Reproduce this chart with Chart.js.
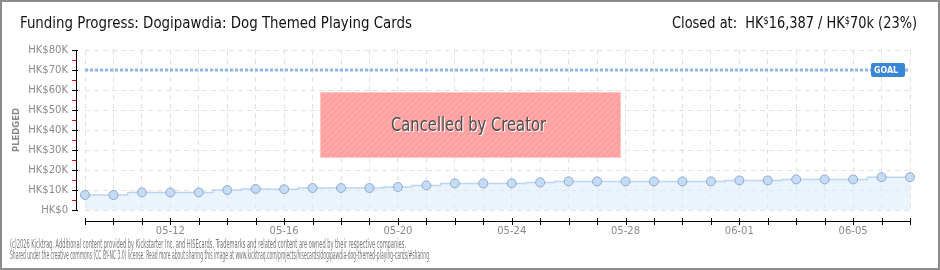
<!DOCTYPE html>
<html>
<head>
<meta charset="utf-8">
<script src="https://cdn.jsdelivr.net/npm/chart.js@4"></script>
<style>
  html, body { margin: 0; padding: 0; background: #fff; }
  canvas { display: block; }
</style>
</head>
<body>
<canvas id="myChart" width="940" height="270"></canvas>
<script>
const dates = [
  '05-09', '05-10', '05-11', '05-12', '05-13', '05-14', '05-15', '05-16', '05-17', '05-18',
  '05-19', '05-20', '05-21', '05-22', '05-23', '05-24', '05-25', '05-26', '05-27', '05-28',
  '05-29', '05-30', '05-31', '06-01', '06-02', '06-03', '06-04', '06-05', '06-06', '06-07',
];
const pledged = [
  7500, 7500, 8800, 8800, 8800, 10000, 10500, 10400, 11000, 11000,
  11000, 11500, 12300, 13300, 13300, 13300, 13800, 14300, 14300, 14300,
  14300, 14300, 14300, 14800, 14800, 15300, 15300, 15300, 16400, 16387,
];
const shownDates = ['05-12', '05-16', '05-20', '05-24', '05-28', '06-01', '06-05'];
const goal = 70000;
const yTicks = [0, 10000, 20000, 30000, 40000, 50000, 60000, 70000, 80000];

const titleText = 'Funding Progress: Dogipawdia: Dog Themed Playing Cards';
const footerLines = [
  '(c)2026 Kicktraq. Additional content provided by Kickstarter Inc. and HISEcards. Trademarks and related content are owned by their respective companies.',
  'Shared under the creative commons (CC BY-NC 3.0) license. Read more about sharing this image at www.kicktraq.com/projects/hisecards/dogipawdia-dog-themed-playing-cards/#sharing',
];

const narrow = '"Liberation Sans Narrow", "DejaVu Sans Condensed", "Liberation Sans", sans-serif';

// draw text squeezed to a given width
function fitText(ctx, text, x, y, width) {
  const w = ctx.measureText(text).width;
  ctx.save();
  ctx.translate(x, y);
  ctx.scale(width / w, 1);
  ctx.textAlign = 'left';
  ctx.fillText(text, 0, 0);
  ctx.restore();
}

function stripes() {
  const c = document.createElement('canvas');
  c.width = 6; c.height = 6;
  const g = c.getContext('2d');
  g.fillStyle = '#ff9f9f';
  g.fillRect(0, 0, 6, 6);
  g.strokeStyle = 'rgba(255,255,255,0.18)';
  g.lineWidth = 1.2;
  g.beginPath();
  g.moveTo(-1, 7); g.lineTo(7, -1);
  g.moveTo(-4, 4); g.lineTo(4, -4);
  g.moveTo(2, 10); g.lineTo(10, 2);
  g.stroke();
  return c;
}

const decor = {
  id: 'decor',
  beforeDatasetsDraw(chart) {
    const ctx = chart.ctx;
    const x = chart.scales.x, y = chart.scales.y;
    // goal line
    const gy = Math.round(y.getPixelForValue(goal));
    ctx.save();
    ctx.strokeStyle = '#8fb6e6';
    ctx.lineWidth = 3;
    ctx.setLineDash([3, 2]);
    ctx.beginPath();
    ctx.moveTo(x.left, gy);
    ctx.lineTo(x.right, gy);
    ctx.stroke();
    ctx.restore();
  },
  afterDraw(chart) {
    const ctx = chart.ctx;
    const x = chart.scales.x, y = chart.scales.y;
    ctx.save();

    // y axis
    ctx.strokeStyle = '#000';
    ctx.lineWidth = 1;
    ctx.beginPath();
    ctx.moveTo(76.5, y.getPixelForValue(80000));
    ctx.lineTo(76.5, y.getPixelForValue(0) + 0.5);
    ctx.stroke();
    yTicks.forEach(v => {
      const py = Math.round(y.getPixelForValue(v)) + 0.5;
      ctx.strokeStyle = '#000';
      ctx.beginPath(); ctx.moveTo(72, py); ctx.lineTo(78, py); ctx.stroke();
      if (v < 80000) {
        const my = Math.round(y.getPixelForValue(v + 5000)) + 0.5;
        ctx.strokeStyle = '#e00000';
        ctx.beginPath(); ctx.moveTo(72, my); ctx.lineTo(76, my); ctx.stroke();
      }
    });

    // x axis
    const ay = 221.5;
    ctx.strokeStyle = '#000';
    ctx.beginPath(); ctx.moveTo(x.left, ay); ctx.lineTo(x.right, ay); ctx.stroke();
    dates.forEach((d, i) => {
      const px = Math.round(x.getPixelForValue(i)) + 0.5;
      ctx.beginPath(); ctx.moveTo(px, 218); ctx.lineTo(px, 225); ctx.stroke();
    });

    // goal badge
    const gy = y.getPixelForValue(goal);
    ctx.fillStyle = '#3a86d6';
    ctx.beginPath();
    ctx.roundRect(871, gy - 7, 34, 14, 2);
    ctx.fill();
    ctx.fillStyle = '#fff';
    ctx.font = 'bold 9px "DejaVu Sans", sans-serif';
    ctx.textBaseline = 'middle';
    fitText(ctx, 'GOAL', 874, gy + 0.5, 24);

    // cancelled box
    const bx = 320, by = 92, bw = 301, bh = 66;
    ctx.fillStyle = ctx.createPattern(stripes(), 'repeat');
    ctx.fillRect(bx, by, bw, bh);
    ctx.strokeStyle = '#ffc4c4';
    ctx.lineWidth = 1;
    ctx.strokeRect(bx + 0.5, by + 0.5, bw - 1, bh - 1);
    ctx.font = '19px ' + narrow;
    ctx.textBaseline = 'middle';
    ctx.fillStyle = '#ffffff';
    fitText(ctx, 'Cancelled by Creator', 392, 127, 155);
    ctx.fillStyle = '#4d4d4d';
    fitText(ctx, 'Cancelled by Creator', 391, 126, 155);

    // PLEDGED
    ctx.save();
    ctx.translate(17, 130);
    ctx.rotate(-Math.PI / 2);
    ctx.fillStyle = '#888';
    ctx.font = 'bold 8px "DejaVu Sans", sans-serif';
    fitText(ctx, 'PLEDGED', -22, 0, 44);
    ctx.restore();

    // titles
    ctx.fillStyle = '#111';
    ctx.font = '16px ' + narrow;
    ctx.textBaseline = 'middle';
    fitText(ctx, titleText, 20, 24, 392);

    const parts = [
      ['Closed at:  HK', 16, 0],
      ['$', 10, -3],
      ['16,387 / HK', 16, 0],
      ['$', 10, -3],
      ['70k (23%)', 16, 0],
    ];
    let total = 0;
    parts.forEach(p => { ctx.font = p[1] + 'px ' + narrow; total += ctx.measureText(p[0]).width; });
    const k = 245 / total;
    let cx = 672;
    parts.forEach(p => {
      ctx.font = p[1] + 'px ' + narrow;
      const w = ctx.measureText(p[0]).width * k;
      fitText(ctx, p[0], cx, 24 + p[2], w);
      cx += w;
    });

    // footer
    ctx.fillStyle = '#777';
    ctx.font = '12px ' + narrow;
    fitText(ctx, footerLines[0], 10, 245, 396);
    fitText(ctx, footerLines[1], 10, 256, 419);

    // frame
    ctx.strokeStyle = '#8c8c8c';
    ctx.lineWidth = 2;
    ctx.strokeRect(1, 1, 938, 268);
    ctx.restore();
  }
};

const data = {
  labels: dates,
  datasets: [{
    label: 'Pledged',
    data: pledged,
    fill: 'origin',
    stepped: 'middle',
    backgroundColor: 'rgba(222, 235, 251, 0.6)',
    borderColor: '#bcd6f2',
    borderWidth: 1.5,
    pointRadius: 4.5,
    pointBackgroundColor: '#c4dcf6',
    pointBorderColor: '#90a9c9',
    pointBorderWidth: 1,
  }]
};

const config = {
  type: 'line',
  data,
  options: {
    responsive: false,
    animation: false,
    layout: { padding: { left: 0, right: 30, top: 50, bottom: 0 } },
    plugins: { legend: { display: false }, tooltip: { enabled: false } },
    scales: {
      x: {
        offset: false,
        afterFit: s => { s.height = 60; },
        grid: { color: '#e2e2e2', drawTicks: false },
        border: { display: false, dash: [5, 4] },
        ticks: {
          autoSkip: false,
          maxRotation: 0,
          padding: 15,
          color: '#8a8a8a',
          font: { family: '"DejaVu Sans", sans-serif', size: 10 },
          callback: (v, i) => shownDates.includes(dates[i]) ? dates[i] : '',
        },
      },
      y: {
        min: 0,
        max: 80000,
        afterFit: s => { s.width = 85; },
        grid: { color: '#e2e2e2', drawTicks: false },
        border: { display: false, dash: [5, 4] },
        ticks: {
          stepSize: 10000,
          padding: 17,
          color: '#8a8a8a',
          font: { family: '"DejaVu Sans", sans-serif', size: 10 },
          callback: v => v === 0 ? 'HK$0' : 'HK$' + (v / 1000) + 'K',
        },
      },
    },
  },
  plugins: [decor],
};

const myChart = new Chart(document.getElementById('myChart'), config);
</script>
</body>
</html>
